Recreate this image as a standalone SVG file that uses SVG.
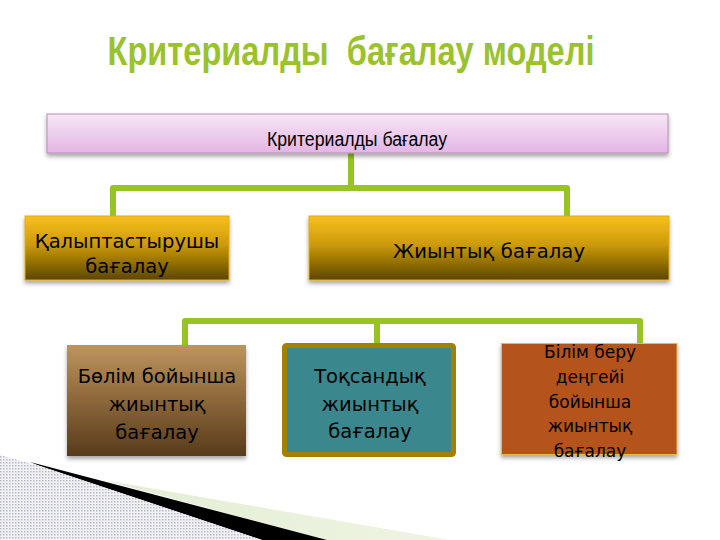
<svg xmlns="http://www.w3.org/2000/svg" width="720" height="540" viewBox="0 0 720 540">
<style>
.t{font-family:"DejaVu Sans","Liberation Sans",sans-serif;font-size:19.5px;fill:#000;text-anchor:middle}
.s{font-size:17px}
.con{fill:none;stroke:#97C423;stroke-width:6;stroke-linejoin:round;stroke-linecap:butt}
</style>
<defs>
<linearGradient id="pink" x1="0" y1="0" x2="0" y2="1">
<stop offset="0" stop-color="#F7E6F7"/><stop offset="1" stop-color="#E3B5E3"/>
</linearGradient>
<linearGradient id="gold" x1="0" y1="0" x2="0" y2="1">
<stop offset="0" stop-color="#F8C020"/><stop offset="0.45" stop-color="#CC9A08"/><stop offset="1" stop-color="#5C4600"/>
</linearGradient>
<linearGradient id="brown" x1="0" y1="0" x2="0" y2="1">
<stop offset="0" stop-color="#BE945E"/><stop offset="0.5" stop-color="#8C673A"/><stop offset="1" stop-color="#573B1A"/>
</linearGradient>
<filter id="sh" x="-10%" y="-20%" width="120%" height="150%">
<feDropShadow dx="0" dy="3" stdDeviation="2" flood-color="#000" flood-opacity="0.35"/>
</filter>
<pattern id="dots" width="3" height="3" patternUnits="userSpaceOnUse">
<rect width="3" height="3" fill="#F2F2F6"/>
<rect width="1.5" height="1.5" fill="#B8B8C4"/>
</pattern>
<linearGradient id="lg" x1="0" y1="0" x2="1" y2="0">
<stop offset="0" stop-color="#E4EDD4"/><stop offset="1" stop-color="#EEF4E2"/>
</linearGradient>
</defs>

<rect width="720" height="540" fill="#FFFFFF"/>

<!-- bottom-left decoration -->
<polygon points="103,480 450,540 327,540" fill="url(#lg)"/>
<polygon points="30,462 327,540 262,540 40,466" fill="#000"/>
<polygon points="0,455 40,466 262,540 0,540" fill="url(#dots)"/>

<text x="351" y="65" xml:space="preserve" font-family="Liberation Sans, Arial, sans-serif" font-weight="bold" font-size="41" fill="#9AC22C" text-anchor="middle" textLength="487" lengthAdjust="spacingAndGlyphs">Критериалды  бағалау моделі</text>

<g id="connectors">
<path class="con" d="M351,153 V188 M113,216 V188 H567 V216"/>
<path class="con" d="M185,345 V321 H640 V343 M377,321 V343"/>
</g>

<g id="node-root">
<rect x="47" y="114" width="621" height="39" fill="url(#pink)" stroke="#B58FB5" stroke-width="1" filter="url(#sh)"/>
<text x="357" y="146" font-family="Liberation Sans, Arial, sans-serif" font-size="19.5" text-anchor="middle" textLength="180" lengthAdjust="spacingAndGlyphs">Критериалды бағалау</text>
</g>

<g id="node-formative">
<rect x="25" y="216" width="204" height="64" fill="url(#gold)" stroke="#E2AC10" stroke-width="1" filter="url(#sh)"/>
<text class="t" x="127" y="248">Қалыптастырушы</text>
<text class="t" x="127" y="273">бағалау</text>
</g>

<g id="node-summative">
<rect x="309" y="216" width="360" height="64" fill="url(#gold)" stroke="#E2AC10" stroke-width="1" filter="url(#sh)"/>
<text class="t" x="489" y="258" textLength="192">Жиынтық бағалау</text>
</g>

<g id="node-section">
<rect x="67" y="345" width="179" height="111" fill="url(#brown)" filter="url(#sh)"/>
<text class="t" x="157" y="383">Бөлім бойынша</text>
<text class="t" x="157" y="411">жиынтық</text>
<text class="t" x="157" y="439">бағалау</text>
</g>

<g id="node-quarter">
<rect x="284.5" y="345.5" width="169" height="109" rx="2" fill="#3B878E" stroke="#A38000" stroke-width="5"/>
<text class="t" x="370" y="383">Тоқсандық</text>
<text class="t" x="370" y="411">жиынтық</text>
<text class="t" x="370" y="438">бағалау</text>
</g>

<g id="node-level">
<rect x="501.5" y="343.5" width="175.5" height="111" fill="#B5531B" stroke="#E6BC48" stroke-width="1" filter="url(#sh)"/>
<text class="t s" x="590" y="358">Білім беру</text>
<text class="t s" x="590" y="383">деңгейі</text>
<text class="t s" x="590" y="408">бойынша</text>
<text class="t s" x="590" y="432">жиынтық</text>
<text class="t s" x="590" y="457">бағалау</text>
</g>
</svg>
